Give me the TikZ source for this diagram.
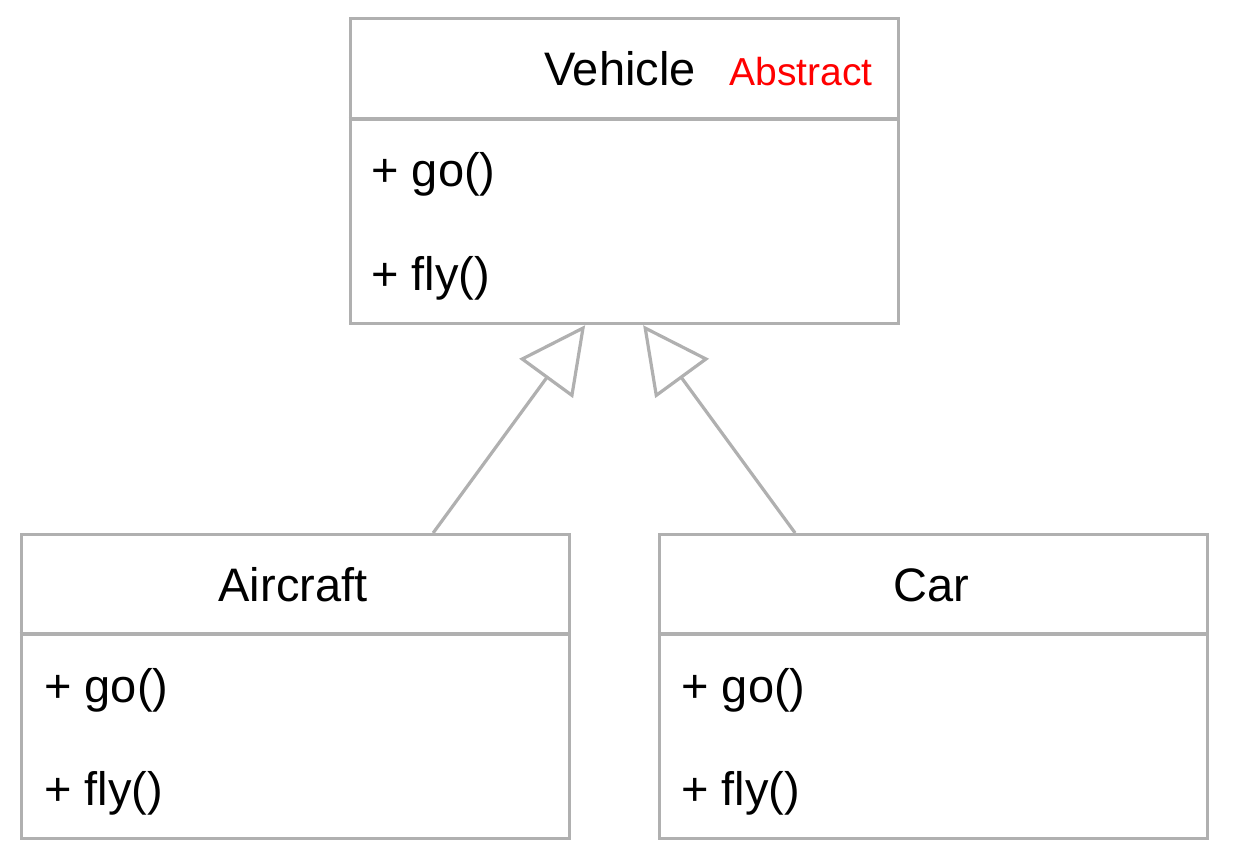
\documentclass[tikz,border=0pt]{standalone}
\usepackage{fontspec}
\setmainfont{Liberation Sans}
\usetikzlibrary{arrows.meta}
\definecolor{edgegray}{HTML}{B0B0B0}
\definecolor{absred}{HTML}{FF0000}
\tikzset{
  classbox/.style={draw=edgegray, line width=1.6pt, rectangle, inner sep=0pt, minimum width=274pt, anchor=north west},
  sepline/.style={draw=edgegray, line width=1.6pt},
  title/.style={anchor=base, inner sep=0pt, font=\fontsize{23.5}{27}\selectfont},
  member/.style={anchor=base west, inner sep=0pt, font=\fontsize{23.5}{27}\selectfont},
  abstr/.style={anchor=base west, inner sep=0pt, text=absred, font=\fontsize{19.5}{23}\selectfont},
  inherit/.style={draw=edgegray, line width=1.6pt, -{Triangle[open, length=33pt, width=33pt, fill=white]}}
}
\begin{document}
\begin{tikzpicture}[x=0.5pt,y=-0.5pt]
\useasboundingbox (0,0) rectangle (1241,850);
% boxes
\node[classbox, minimum height=152.5pt] (vehicle) at (348.5,17) {};
\node[classbox, minimum height=152pt] (aircraft) at (19.5,533) {};
\node[classbox, minimum height=152pt] (car) at (657.5,533) {};
% separators
\draw[sepline] ([yshift=-51pt]vehicle.north west) -- ([yshift=-51pt]vehicle.north east);
\draw[sepline] ([yshift=-50.5pt]aircraft.north west) -- ([yshift=-50.5pt]aircraft.north east);
\draw[sepline] ([yshift=-50.5pt]car.north west) -- ([yshift=-50.5pt]car.north east);
% texts
\node[title] (vname) at (620,86) {Vehicle};
\node[abstr] (vabs) at (729,86) {Abstract};
\node[member] (vgo) at (371,187) {+ go()};
\node[member] (vfly) at (371,290) {+ fly()};
\node[title] (aname) at (293,601) {Aircraft};
\node[member] (ago) at (44,702) {+ go()};
\node[member] (afly) at (44,805) {+ fly()};
\node[title] (cname) at (931,601) {Car};
\node[member] (cgo) at (681,702) {+ go()};
\node[member] (cfly) at (681,805) {+ fly()};
% inheritance
\draw[inherit] ([xshift=69pt]aircraft.north) -- ([xshift=-19.5pt]vehicle.south);
\draw[inherit] ([xshift=-69pt]car.north) -- ([xshift=9.5pt]vehicle.south);
\end{tikzpicture}
\end{document}
